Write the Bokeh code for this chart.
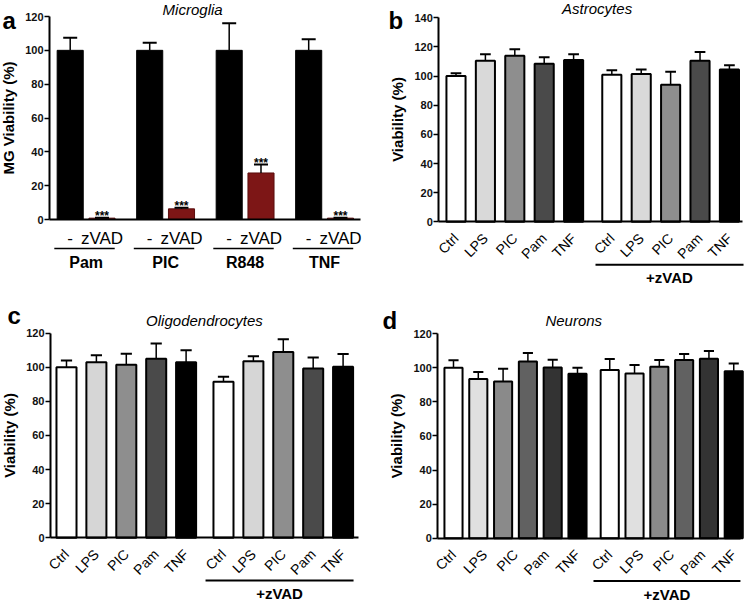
import math
from bokeh.plotting import figure
from bokeh.models import Range1d, FixedTicker
from bokeh.layouts import gridplot
from bokeh.embed import file_html
from bokeh.resources import INLINE
from bokeh.core.properties import value

FONT = "Liberation Sans"

# ---------------- data ----------------
# Panel a: Microglia
mg_groups = ["Pam", "PIC", "R848", "TNF"]
mg_conditions = ["-", "zVAD"]
mg_ctrl = [100, 100, 100, 100]
mg_ctrl_err = [7.5, 4.5, 16.0, 6.5]
mg_zvad = [0.8, 6.3, 27.5, 0.8]
mg_zvad_err = [0.3, 0.6, 5.0, 0.3]
mg_sig = ["***", "***", "***", "***"]

# Panels b-d
treatments = ["Ctrl", "LPS", "PIC", "Pam", "TNF"]
group_label = "+zVAD"

astro_vals = [100, 110.5, 114, 108.5, 111, 101, 101.5, 94, 110.5, 104.5]
astro_err = [2, 4.5, 4.5, 4.5, 4, 3, 3, 9, 6, 3]
astro_colors = ["#ffffff", "#d9d9d9", "#8e8e8e", "#4a4a4a", "#000000"]

olig_vals = [100, 103, 101.5, 105, 103, 91.5, 103.5, 109, 99.3, 100.3]
olig_err = [4, 4, 6.5, 9, 7, 3, 3, 7.5, 6.5, 7.5]
olig_colors = ["#ffffff", "#d6d6d6", "#8e8e8e", "#4a4a4a", "#000000"]

neuron_vals = [100, 93.5, 92, 103.7, 100.2, 96.5, 98.7, 96.7, 100.6, 104.6, 105.4, 98]
neuron_err = [4.5, 4, 7.5, 5, 4.5, 3.5, 6.5, 5, 4, 3.5, 4.5, 4.5]
neuron_colors = ["#ffffff", "#e0e0e0", "#8a8a8a", "#616161", "#333333", "#000000"]

panel_letters = ["a", "b", "c", "d"]
panel_titles = ["Microglia", "Astrocytes", "Oligodendrocytes", "Neurons"]


# ---------------- helpers ----------------
def base_fig(w, h, xr, yr):
    p = figure(width=w, height=h, x_range=Range1d(*xr), y_range=Range1d(*yr),
               output_backend="svg", toolbar_location=None,
               min_border_left=0, min_border_right=0, min_border_top=0, min_border_bottom=0)
    p.outline_line_color = None
    p.grid.visible = False
    p.background_fill_color = "white"
    p.border_fill_color = "white"
    return p


def style_axes(p, y0x, ymax, ylabel, xend):
    ya = p.yaxis[0]
    xa = p.xaxis[0]
    ya.fixed_location = y0x
    ya.bounds = (0, ymax)
    ya.ticker = FixedTicker(ticks=list(range(0, ymax + 1, 20)), minor_ticks=[])
    ya.axis_label = ylabel
    ya.axis_label_text_font = FONT
    ya.axis_label_text_font_style = "bold"
    ya.axis_label_text_font_size = "15px"
    ya.axis_label_text_color = "black"
    ya.axis_label_standoff = 5
    ya.major_label_text_font = FONT
    ya.major_label_text_font_style = "bold"
    ya.major_label_text_font_size = "11px"
    ya.major_label_text_color = "#111111"
    ya.major_label_standoff = 1
    ya.major_tick_in = 0
    ya.major_tick_out = 5
    ya.major_tick_line_width = 1.5
    ya.minor_tick_line_color = None
    ya.axis_line_width = 2
    ya.axis_line_color = "black"
    xa.fixed_location = 0
    xa.bounds = (y0x, xend)
    xa.axis_line_width = 2
    xa.axis_line_color = "black"
    xa.major_tick_line_color = None
    xa.minor_tick_line_color = None
    xa.major_label_text_font = FONT
    xa.major_label_text_color = "black"


def error_bars(p, xs, vals, errs, cap_half, lw=1.5):
    tops = [v + e for v, e in zip(vals, errs)]
    p.segment(x0=xs, y0=vals, x1=xs, y1=tops, line_color="black", line_width=lw)
    p.segment(x0=[x - cap_half for x in xs], y0=tops, x1=[x + cap_half for x in xs], y1=tops,
              line_color="black", line_width=2)


def add_text(p, x, y, txt, size, style="normal", align="center", baseline="middle", angle=0.0):
    p.text(x=[x], y=[y], text=[txt], text_font=value(FONT), text_font_size=size,
           text_font_style=style, text_align=align, text_baseline=baseline,
           text_color="black", angle=angle)


# ---------------- panel a ----------------
GA = 2.5
pa = base_fig(375, 300, (-2.192, 9.601), (-47.88, 129.46))
xa_black = [g * GA for g in range(len(mg_groups))]
xa_red = [g * GA + 1 for g in range(len(mg_groups))]
pa.vbar(x=xa_black, top=mg_ctrl, bottom=0, width=0.82, fill_color="black", line_color="black")
pa.vbar(x=xa_red, top=mg_zvad, bottom=0, width=0.82, fill_color="#7d1616", line_color="#5a0d0d", line_width=1)
error_bars(pa, xa_black, mg_ctrl, mg_ctrl_err, 0.22)
error_bars(pa, xa_red, mg_zvad, mg_zvad_err, 0.22)
style_axes(pa, -0.651, 120, "MG Viability (%)", 9.13)
ticks_a = sorted(xa_black + xa_red)
pa.xaxis[0].ticker = FixedTicker(ticks=ticks_a, minor_ticks=[])
pa.xaxis[0].major_label_overrides = {t: (mg_conditions[0] if i % 2 == 0 else mg_conditions[1])
                                     for i, t in enumerate(ticks_a)}
pa.xaxis[0].major_label_text_font_size = "17px"
pa.xaxis[0].major_label_standoff = 3
star_y = [v + e + 0.8 for v, e in zip(mg_zvad, mg_zvad_err)]
pa.text(x=xa_red, y=star_y, text=mg_sig, text_font=value(FONT), text_font_size="12px",
        text_font_style="bold", text_align="center", text_baseline="alphabetic", text_color="black")
pa.segment(x0=[x - 0.5 for x in xa_black], y0=-17.1, x1=[x + 1.4 for x in xa_black], y1=-17.1,
           line_color="black", line_width=1.5)
pa.text(x=[x + 0.5 for x in xa_black], y=-25.6, text=mg_groups, text_font=value(FONT),
        text_font_size="16px", text_font_style="bold", text_align="center",
        text_baseline="middle", text_color="black")
add_text(pa, 3.85, 124.1, panel_titles[0], "15px", style="italic")
add_text(pa, -2.13, 117.6, panel_letters[0], "24px", style="bold", align="left", baseline="alphabetic")


# ---------------- panels b-d ----------------
def cell_panel(vals, errs, colors, offset, bar_w, height, xr, yr, y0x, ymax, xend, label_ticks,
               line_y, text_y, line_x, title, title_xy, letter, letter_xy):
    n = len(colors)
    xs = [i if i < n else i - n + offset for i in range(len(vals))]
    fills = [colors[i % n] for i in range(len(vals))]
    p = base_fig(375, height, xr, yr)
    p.vbar(x=xs, top=vals, bottom=0, width=bar_w, fill_color=fills, line_color="black", line_width=2)
    error_bars(p, xs, vals, errs, bar_w * 0.28)
    style_axes(p, y0x, ymax, "Viability (%)", xend)
    xa = p.xaxis[0]
    xa.ticker = FixedTicker(ticks=label_ticks, minor_ticks=[])
    xa.major_label_overrides = {t: treatments[i % len(treatments)] for i, t in enumerate(label_ticks)}
    xa.major_label_orientation = math.pi / 4
    xa.major_label_text_font_size = "14px"
    xa.major_label_standoff = 8
    p.segment(x0=[line_x[0]], y0=[line_y], x1=[line_x[1]], y1=[line_y], line_color="black", line_width=2)
    add_text(p, (line_x[0] + line_x[1]) / 2, text_y, group_label, "15px", style="bold")
    add_text(p, title_xy[0], title_xy[1], title, "15px", style="italic")
    add_text(p, letter_xy[0], letter_xy[1], letter, "24px", style="bold", align="left", baseline="alphabetic")
    return p


ticks_b = [0, 1, 2, 3, 4, 5.3, 6.3, 7.3, 8.3, 9.3]
pb = cell_panel(astro_vals, astro_err, astro_colors, 5.3, 0.65, 300, (-2.738, 10.017), (-54.01, 151.87),
                -0.585, 140, 9.745, ticks_b, -29.5, -38.0, (4.745, 9.78),
                panel_titles[1], (4.80, 146.2), panel_letters[1], (-2.296, 138.15))

ticks_c = [0, 1, 2, 3, 4, 5.25, 6.25, 7.25, 8.25, 9.25]
pc = cell_panel(olig_vals, olig_err, olig_colors, 5.25, 0.67, 302, (-2.207, 10.334), (-37.95, 139.18),
                -0.535, 120, 9.78, ticks_c, -25.0, -32.7, (4.65, 9.6),
                panel_titles[2], (4.615, 127.45), panel_letters[2], (-1.97, 130.4))

ticks_d = [k * 1.25 for k in range(5)] + [6.3 + k * 1.25 for k in range(5)]
pd_ = cell_panel(neuron_vals, neuron_err, neuron_colors, 6.3, 0.73, 302, (-3.145, 11.976), (-37.76, 139.55),
                 -0.633, 120, 11.57, ticks_d, -25.2, -33.3, (5.645, 11.57),
                 panel_titles[3], (4.85, 127.8), panel_letters[3], (-2.863, 127.8))

grid = gridplot([[pa, pb], [pc, pd_]], toolbar_location=None)
open("out.html", "w").write(file_html(grid, INLINE))
